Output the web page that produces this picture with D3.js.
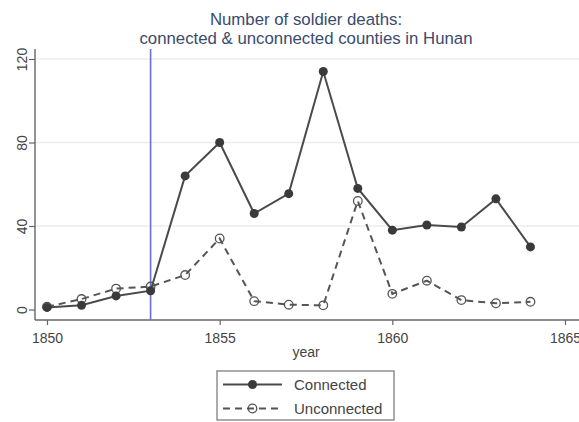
<!DOCTYPE html>
<html>
<head>
<meta charset="utf-8">
<script src="https://cdn.jsdelivr.net/npm/d3@7"></script>
<style>
  html, body { margin: 0; padding: 0; background: #ffffff; }
  svg { display: block; font-family: "Liberation Sans", Arial, Helvetica, sans-serif; }
</style>
</head>
<body>
<svg id="chart" width="579" height="422"></svg>
<script>
// Soldier deaths per year, Hunan counties
const years = [1850, 1851, 1852, 1853, 1854, 1855, 1856, 1857, 1858, 1859, 1860, 1861, 1862, 1863, 1864];
const connected = [1, 2, 6.5, 9, 64, 80, 46, 55.5, 114, 58, 38, 40.5, 39.5, 53, 30];
const unconnected = [1.3, 5, 10, 11, 16.5, 34, 4, 2.3, 2, 52, 7.5, 13.8, 4.5, 3, 3.7];
const xTicks = [1850, 1855, 1860, 1865];
const yTicks = [0, 40, 80, 120];
const gridTicks = [40, 80, 120];
const markerYear = 1853;
const titleLines = ["Number of soldier deaths:", "connected & unconnected counties in Hunan"];
const xTitle = "year";
const seriesNames = ["Connected", "Unconnected"];

const svg = d3.select("#chart");
const plot = { left: 35, right: 579, top: 49, bottom: 320 };

const x = d3.scaleLinear().domain([1850, 1865]).range([47, 565]);
const y = d3.scaleLinear().domain([0, 120]).range([309.5, 59]);

const ink = "#4a4a4a";
const axisInk = "#666666";

// light horizontal grid
svg.append("g").selectAll("line").data(gridTicks).join("line")
  .attr("x1", plot.left).attr("x2", plot.right)
  .attr("y1", d => y(d)).attr("y2", d => y(d))
  .attr("stroke", "#ededed").attr("stroke-width", 1.5);

// title
svg.append("g").selectAll("text").data(titleLines).join("text")
  .attr("x", 306).attr("y", (d, i) => 24.5 + i * 19)
  .attr("text-anchor", "middle")
  .attr("font-size", 16.8)
  .attr("fill", "#3a4b6c")
  .text(d => d);

// x axis
const gx = svg.append("g").attr("transform", `translate(0,${plot.bottom})`)
  .call(d3.axisBottom(x).tickValues(xTicks).tickFormat(d3.format("d")).tickSize(5).tickPadding(8));
gx.select(".domain").remove();
gx.selectAll(".tick line").attr("stroke", axisInk).attr("stroke-width", 1.2);
gx.selectAll(".tick text").attr("font-size", 14).attr("fill", "#444").attr("font-family", null);
svg.append("line")
  .attr("x1", plot.left).attr("x2", plot.right)
  .attr("y1", plot.bottom).attr("y2", plot.bottom)
  .attr("stroke", axisInk).attr("stroke-width", 1.4);

// y axis with rotated labels
const gy = svg.append("g").attr("transform", `translate(${plot.left},0)`)
  .call(d3.axisLeft(y).tickValues(yTicks).tickSize(6));
gy.select(".domain").remove();
gy.selectAll(".tick line").attr("stroke", axisInk).attr("stroke-width", 1.2);
gy.selectAll(".tick text")
  .attr("transform", "rotate(-90)")
  .attr("x", 0).attr("y", -8).attr("dy", 0)
  .attr("text-anchor", "middle")
  .attr("font-size", 14).attr("fill", "#444").attr("font-family", null);
svg.append("line")
  .attr("x1", plot.left).attr("x2", plot.left)
  .attr("y1", plot.top).attr("y2", plot.bottom)
  .attr("stroke", axisInk).attr("stroke-width", 1.4);

// x axis title
svg.append("text")
  .attr("x", 306).attr("y", 357)
  .attr("text-anchor", "middle")
  .attr("font-size", 14).attr("fill", "#444")
  .text(xTitle);

// reference year
svg.append("line")
  .attr("x1", x(markerYear)).attr("x2", x(markerYear))
  .attr("y1", plot.top).attr("y2", plot.bottom)
  .attr("stroke", "#6a6fd2").attr("stroke-width", 1.6);

const line = d3.line().x(d => x(d[0])).y(d => y(d[1]));
const connPts = years.map((yr, i) => [yr, connected[i]]);
const unconnPts = years.map((yr, i) => [yr, unconnected[i]]);

// unconnected: dashed line, hollow circles
svg.append("path").datum(unconnPts)
  .attr("d", line).attr("fill", "none")
  .attr("stroke", "#555").attr("stroke-width", 2).attr("stroke-dasharray", "7,5");
svg.append("g").selectAll("circle").data(unconnPts).join("circle")
  .attr("cx", d => x(d[0])).attr("cy", d => y(d[1])).attr("r", 4.3)
  .attr("fill", "none").attr("stroke", "#555").attr("stroke-width", 1.3);

// connected: solid line, filled circles
svg.append("path").datum(connPts)
  .attr("d", line).attr("fill", "none")
  .attr("stroke", ink).attr("stroke-width", 2);
svg.append("g").selectAll("circle").data(connPts).join("circle")
  .attr("cx", d => x(d[0])).attr("cy", d => y(d[1])).attr("r", 4.5)
  .attr("fill", "#3a3a3a");

// legend
const lg = svg.append("g");
lg.append("rect")
  .attr("x", 217).attr("y", 371).attr("width", 177).attr("height", 49)
  .attr("fill", "#fff").attr("stroke", "#888").attr("stroke-width", 1.4);
const rows = lg.selectAll("g.row").data(seriesNames).join("g")
  .attr("class", "row")
  .attr("transform", (d, i) => `translate(0,${384.5 + i * 24})`);
rows.append("line")
  .attr("x1", 223).attr("x2", 282).attr("y1", 0).attr("y2", 0)
  .attr("stroke", (d, i) => i === 0 ? ink : "#555")
  .attr("stroke-width", 2)
  .attr("stroke-dasharray", (d, i) => i === 0 ? null : "7,5");
rows.append("circle")
  .attr("cx", 252.5).attr("cy", 0).attr("r", (d, i) => i === 0 ? 4.5 : 4.3)
  .attr("fill", (d, i) => i === 0 ? "#3a3a3a" : "none")
  .attr("stroke", (d, i) => i === 0 ? null : "#555")
  .attr("stroke-width", 1.3);
rows.append("text")
  .attr("x", 294).attr("y", 5)
  .attr("font-size", 15).attr("fill", "#444")
  .text(d => d);
</script>
</body>
</html>
